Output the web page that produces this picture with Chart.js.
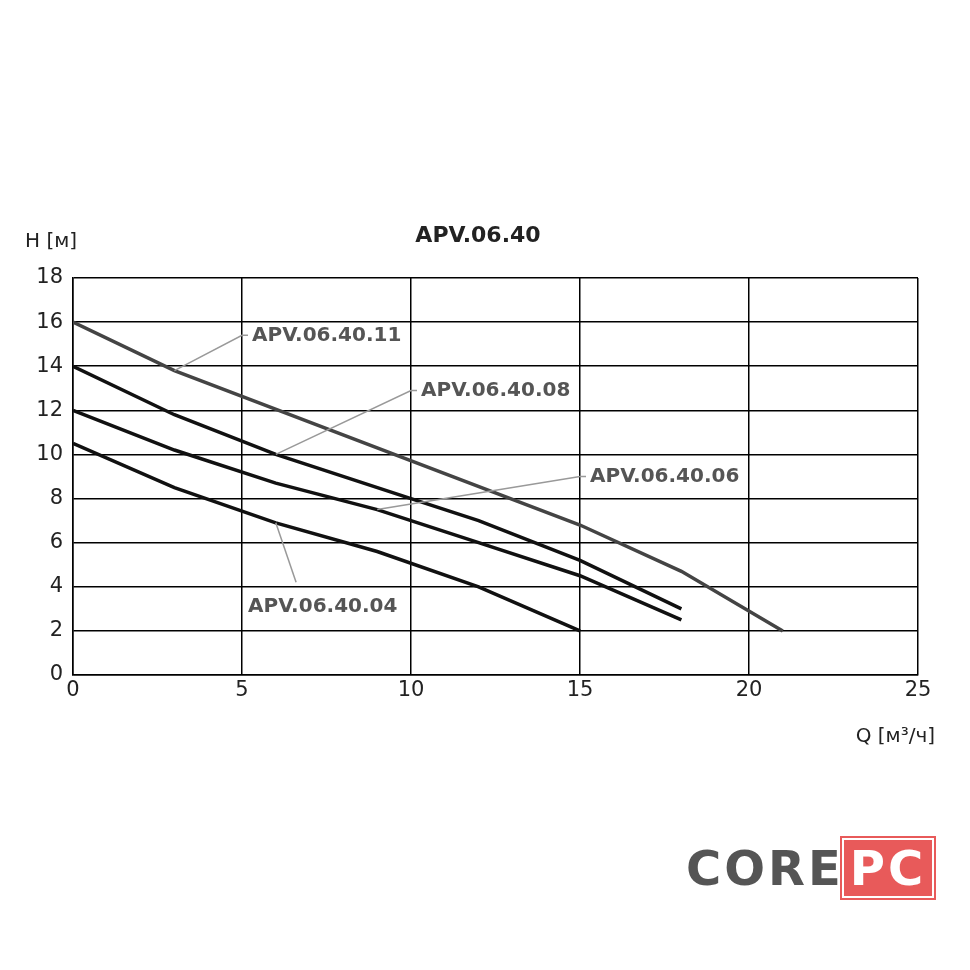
<!DOCTYPE html>
<html>
<head>
<meta charset="utf-8">
<script src="https://cdn.jsdelivr.net/npm/chart.js@4"></script>
<style>
  body { margin: 0; background: #fff; }
  #wrap { position: relative; width: 970px; height: 970px; }
  #logo { position: absolute; left: 686px; top: 840px; font: bold 48px "DejaVu Sans", sans-serif; letter-spacing: 3px; }
  #logo .core { color: #555; }
  #logo .pc { color: #fff; background: #e85a5a; padding: 0 6px; outline: 2px solid #e85a5a; outline-offset: 2px; }
</style>
</head>
<body>
<div id="wrap">
  <canvas id="chart" width="970" height="970"></canvas>
  <div id="logo"><span class="core">CORE</span><span class="pc">PC</span></div>
</div>
<script>
// curves: [Q, H]
const curve11 = [[0, 16], [3, 13.8], [15, 6.8], [18, 4.7], [21, 2]];
const curve08 = [[0, 14], [3, 11.8], [6, 10], [10, 8], [12, 7], [15, 5.2], [18, 3]];
const curve06 = [[0, 12], [3, 10.2], [6, 8.7], [9, 7.5], [12, 6], [15, 4.5], [18, 2.5]];
const curve04 = [[0, 10.5], [3, 8.5], [6, 6.9], [9, 5.6], [12, 4], [15, 2]];
const seriesNames = ['APV.06.40.11', 'APV.06.40.08', 'APV.06.40.06', 'APV.06.40.04'];
// leader: from point on curve -> elbow (data units), text offset
const leaders = [
    { from: [3, 13.8], to: [5, 15.4], dx: 10, dy: 0 },
    { from: [6, 10], to: [10, 12.9], dx: 10, dy: 0 },
    { from: [9, 7.5], to: [15, 9], dx: 10, dy: 0 },
    { from: [6, 6.9], to: [6.6, 4.2], dx: -48, dy: 24 }
];

const toXY = arr => arr.map(p => ({ x: p[0], y: p[1] }));

const labelPlugin = {
    id: 'labels',
    afterDatasetsDraw(chart) {
        const { ctx, scales: { x, y } } = chart;
        ctx.save();
        leaders.forEach((l, i) => {
            const x1 = x.getPixelForValue(l.from[0]), y1 = y.getPixelForValue(l.from[1]);
            const x2 = x.getPixelForValue(l.to[0]), y2 = y.getPixelForValue(l.to[1]);
            ctx.strokeStyle = '#999';
            ctx.lineWidth = 1.5;
            ctx.beginPath();
            ctx.moveTo(x1, y1);
            ctx.lineTo(x2, y2);
            if (i < 3) ctx.lineTo(x2 + 6, y2);
            ctx.stroke();
            ctx.fillStyle = '#555';
            ctx.font = 'bold 20px "DejaVu Sans", sans-serif';
            ctx.textBaseline = 'middle';
            ctx.fillText(seriesNames[i], x2 + l.dx, y2 + l.dy);
        });
        ctx.fillStyle = '#222';
        ctx.font = '20px "DejaVu Sans", sans-serif';
        ctx.textBaseline = 'middle';
        ctx.fillText('H [м]', 25, 242);
        ctx.textAlign = 'right';
        ctx.fillText('Q [м³/ч]', 935, 737);
        ctx.textAlign = 'center';
        ctx.font = 'bold 22px "DejaVu Sans", sans-serif';
        ctx.fillText('APV.06.40', 478, 236);
        ctx.restore();
    }
};

new Chart(document.getElementById('chart').getContext('2d'), {
    type: 'line',
    data: {
        datasets: [
            { data: toXY(curve11), borderColor: '#444' },
            { data: toXY(curve08), borderColor: '#111' },
            { data: toXY(curve06), borderColor: '#111' },
            { data: toXY(curve04), borderColor: '#111' }
        ]
    },
    options: {
        responsive: false,
        animation: false,
        elements: { line: { borderWidth: 3.5, tension: 0 }, point: { radius: 0 } },
        layout: { padding: { left: 23, right: 52, top: 278, bottom: 265 } },
        plugins: { legend: { display: false }, tooltip: { enabled: false } },
        scales: {
            x: {
                type: 'linear', min: 0, max: 25,
                ticks: { stepSize: 5, color: '#222', font: { size: 21, family: 'DejaVu Sans' } },
                grid: { color: '#000', lineWidth: 1.5, drawTicks: false },
                border: { color: '#000', width: 1.5 },
                afterFit: s => { s.height = 30; }
            },
            y: {
                min: 0, max: 18,
                ticks: { stepSize: 2, color: '#222', padding: 10, font: { size: 21, family: 'DejaVu Sans' } },
                grid: { color: '#000', lineWidth: 1.5, drawTicks: false },
                border: { color: '#000', width: 1.5 },
                afterFit: s => { s.width = 50; }
            }
        }
    },
    plugins: [labelPlugin]
});
</script>
</body>
</html>
